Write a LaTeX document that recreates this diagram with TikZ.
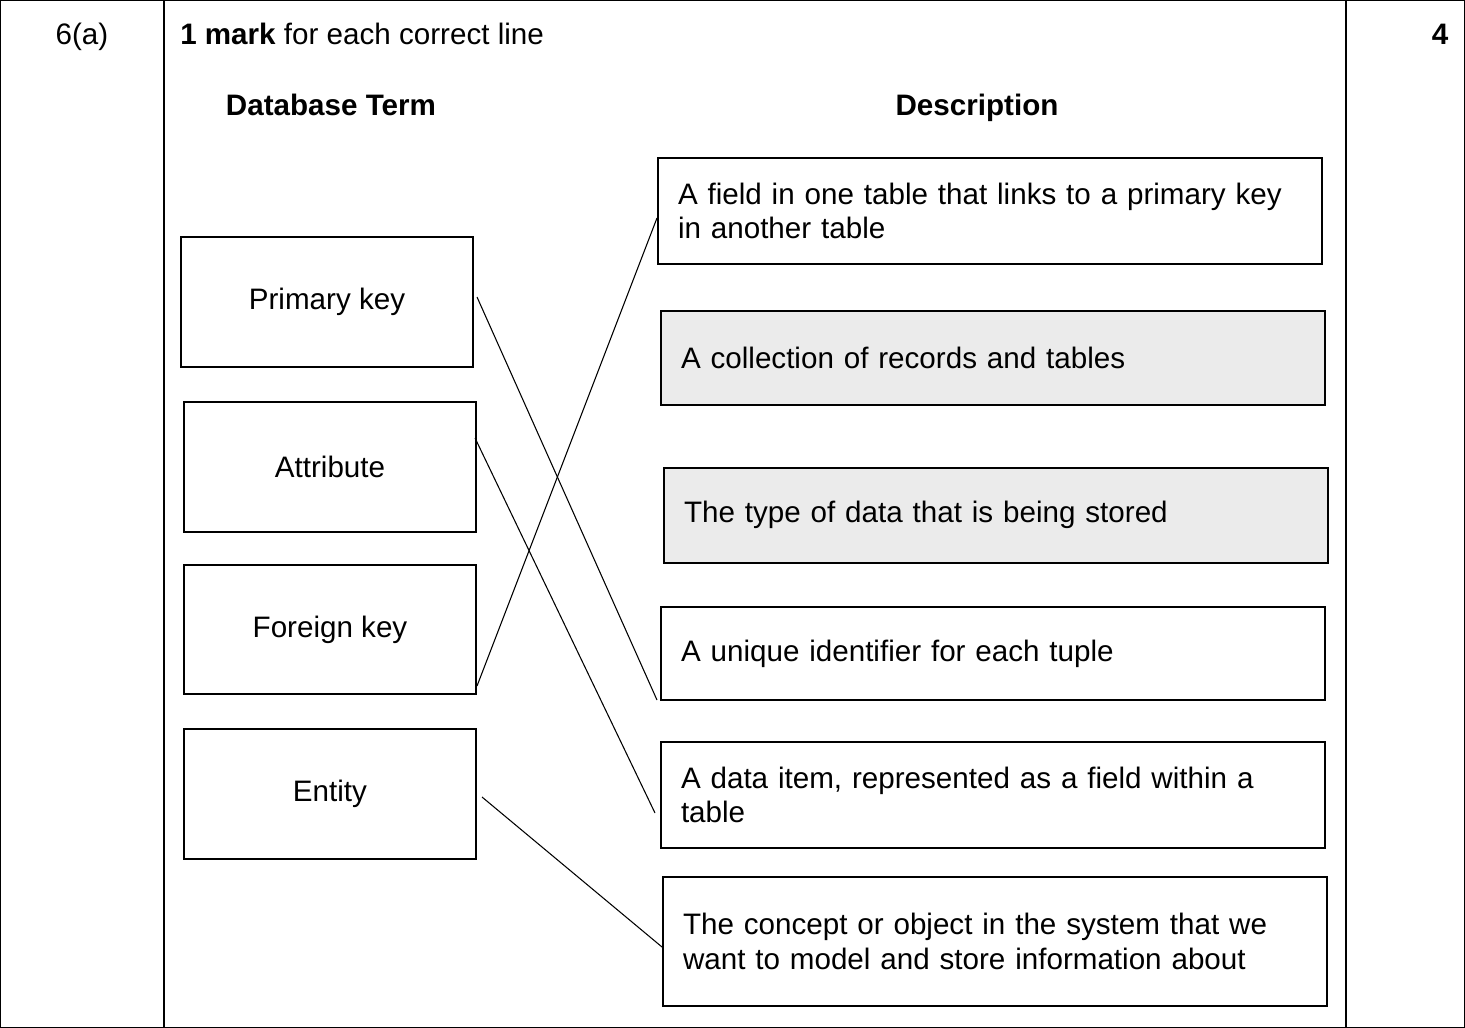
\documentclass[tikz,border=0pt]{standalone}
\usepackage{fontspec}
\setmainfont{Liberation Sans}
\begin{document}
\begin{tikzpicture}[x=0.75pt,y=-0.75pt,
  term/.style={draw,line width=1.5pt,anchor=north west,font=\fontsize{22.2}{26}\selectfont},
  desc/.style={draw,line width=1.5pt,anchor=north west,align=left,text width=#1,inner xsep=15pt,font=\fontsize{22.2}{26}\selectfont},
  link/.style={line width=0.8pt},
  txt/.style={font=\fontsize{22.2}{26}\selectfont}]
\useasboundingbox (0,0) rectangle (1465,1028);
\draw[line width=0.8pt] (0,0) rectangle (1465,1028);
\draw[line width=0.8pt] (164,0) -- (164,1028) (1346,0) -- (1346,1028);
\node[txt,anchor=base] (q) at (82,45) {6(a)};
\node[txt,anchor=base] (m) at (1440,45) {\textbf{4}};
\node[txt,anchor=base west,inner sep=0] (h) at (180,45) {\textbf{1 mark} for each correct line};
\node[txt,anchor=base] (h1) at (331,115) {\textbf{Database Term}};
\node[txt,anchor=base] (h2) at (977,115) {\textbf{Description}};
\node[term,minimum width=219pt,minimum height=97.5pt] (pk) at (180,236) {Primary key};
\node[term,minimum width=219pt,minimum height=97.5pt] (at) at (183,401) {Attribute};
\node[term,minimum width=219pt,minimum height=97pt] (fk) at (183,564) {Foreign key};
\node[term,minimum width=219pt,minimum height=97.5pt] (en) at (183,728) {Entity};
\node[desc=468pt,minimum height=79.5pt] (d1) at (657,157) {A field in one table that links to a primary key\\in another table};
\node[desc=468pt,minimum height=70.5pt,fill=black!8] (d2) at (660,310) {A collection of records and tables};
\node[desc=468pt,minimum height=71pt,fill=black!8] (d3) at (663,467) {The type of data that is being stored};
\node[desc=468pt,minimum height=70pt] (d4) at (660,606) {A unique identifier for each tuple};
\node[desc=468pt,minimum height=79.5pt] (d5) at (660,741) {A data item, represented as a field within a\\table};
\node[desc=468pt,minimum height=97pt] (d6) at (662,876) {The concept or object in the system that we\\want to model and store information about};
\coordinate (a1) at (477,297); \coordinate (b1) at (657,700);
\coordinate (a2) at (475,438); \coordinate (b2) at (655,813);
\coordinate (a3) at (477,686); \coordinate (b3) at (657,218);
\coordinate (a4) at (482,797); \coordinate (b4) at (662,947);
\draw[link] (a1) -- (b1);
\draw[link] (a2) -- (b2);
\draw[link] (a3) -- (b3);
\draw[link] (a4) -- (b4);
\end{tikzpicture}
\end{document}
